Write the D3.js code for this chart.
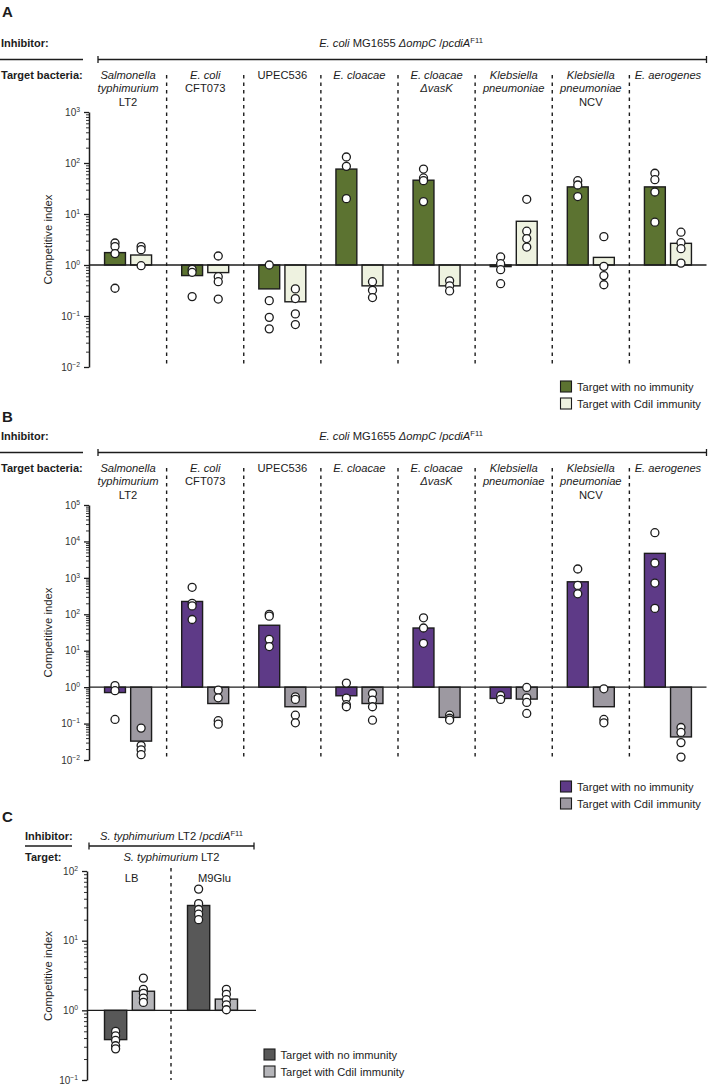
<!DOCTYPE html>
<html><head><meta charset="utf-8">
<script src="https://cdn.jsdelivr.net/npm/d3@7"></script>
<style>body{margin:0;background:#fff}svg{display:block;font-family:"Liberation Sans",Arial,Helvetica,sans-serif}</style>
</head><body><svg id="c" width="709" height="1087"></svg>
<script>
// ---------------- DATA ----------------
const targetLabels = [
  ["*Salmonella*", "*typhimurium*", "LT2"],
  ["*E. coli*", "CFT073"],
  ["UPEC536"],
  ["*E. cloacae*"],
  ["*E. cloacae*", "*ΔvasK*"],
  ["*Klebsiella*", "*pneumoniae*"],
  ["*Klebsiella*", "*pneumoniae*", "NCV"],
  ["*E. aerogenes*"]
];
const seriesNames = ["Target with no immunity", "Target with CdiI immunity"];
const inhibitorAB = "*E. coli* MG1655 *ΔompC* /*pcdiA*^F11^";
const inhibitorC = "*S. typhimurium* LT2 /*pcdiA*^F11^";
const targetC = "*S. typhimurium* LT2";
const conditionsC = ["LB", "M9Glu"];

const ticksA = [1e-2, 1e-1, 1e0, 1e1, 1e2, 1e3];
const ticksB = [1e-2, 1e-1, 1e0, 1e1, 1e2, 1e3, 1e4, 1e5];
const ticksC = [1e-1, 1e0, 1e1, 1e2];

// Panel A
const aNoBar = [1.75, 0.62, 0.34, 76, 46, 0.93, 34, 34];
const aNoPts = [[2.7, 2.3, 1.67, 0.35], [0.82, 0.72, 0.24], [1.0, 0.20, 0.094, 0.056], [131, 86, 20],
                [76, 51, 45, 17.5], [1.44, 1.06, 0.81, 0.43], [45, 37, 22], [63, 47, 27, 6.9]];
const aImmBar = [1.57, 0.71, 0.19, 0.39, 0.39, 7.2, 1.41, 2.66];
const aImmPts = [[2.3, 2.0, 0.97], [1.5, 0.59, 0.47, 0.215], [0.34, 0.22, 0.11, 0.068], [0.47, 0.32, 0.23],
                 [0.49, 0.39, 0.31], [19.4, 4.6, 3.3, 2.25], [3.6, 0.94, 0.62, 0.41], [4.4, 2.74, 2.09, 1.09]];
// Panel B
const bNoBar = [0.71, 225, 50, 0.58, 42, 0.49, 780, 4700];
const bNoPts = [[1.1, 0.8, 0.13], [550, 200, 170, 72], [100, 89, 20.5, 13], [1.29, 0.5, 0.33, 0.29],
                [80, 42, 16], [0.59, 0.46], [1750, 620, 365], [17400, 2560, 720, 145]];
const bImmBar = [0.033, 0.355, 0.29, 0.355, 0.148, 0.47, 0.29, 0.043];
const bImmPts = [[0.075, 0.025, 0.019, 0.014], [0.83, 0.51, 0.12, 0.096], [0.54, 0.46, 0.17, 0.105],
                 [0.67, 0.44, 0.29, 0.124], [0.17, 0.14, 0.125], [0.98, 0.51, 0.38, 0.19],
                 [0.9, 0.13, 0.105], [0.078, 0.057, 0.030, 0.012]];
// Panel C
const cNoBar = [0.38, 32];
const cNoPts = [[0.5, 0.43, 0.37, 0.31, 0.28], [55, 34, 28, 24, 20]];
const cImmBar = [1.88, 1.45];
const cImmPts = [[2.9, 2.0, 1.75, 1.5, 1.3], [2.0, 1.7, 1.42, 1.2, 1.02]];

// ---------------- DRAWING ----------------
const svg = d3.select("#c");
const INK = "#1c1c1c";

function rich(sel, markup, fs) {
  let italic = false, sup = false, buf = "";
  const segs = [];
  for (const ch of markup) {
    if (ch === "*" || ch === "^") {
      if (buf) segs.push({t: buf, i: italic, s: sup});
      buf = "";
      if (ch === "*") italic = !italic; else sup = !sup;
    } else buf += ch;
  }
  if (buf) segs.push({t: buf, i: italic, s: sup});
  let prev = false;
  const shift = fs * 0.4;
  segs.forEach(sg => {
    const ts = sel.append("tspan").text(sg.t).attr("font-style", sg.i ? "italic" : "normal");
    if (sg.s) { ts.attr("font-size", fs * 0.68); if (!prev) ts.attr("dy", -shift); }
    else { ts.attr("font-size", fs); if (prev) ts.attr("dy", shift); }
    prev = sg.s;
  });
  return sel;
}

function text(g, x, y, markup, opts = {}) {
  const fs = opts.fs || 11.2;
  const t = g.append("text").attr("x", x).attr("y", y).attr("fill", INK)
    .attr("font-size", fs).attr("text-anchor", opts.anchor || "start")
    .attr("font-weight", opts.bold ? "bold" : "normal");
  if (opts.rotate) t.attr("transform", `rotate(-90,${x},${y})`);
  return rich(t, markup, fs);
}

function expLabel(d) {
  const e = Math.round(Math.log10(d));
  return "10^" + (e < 0 ? "−" + (-e) : e) + "^";
}

function logAxis(g, y, x0, majors) {
  const minors = [];
  for (let i = 0; i < majors.length - 1; i++)
    for (let k = 2; k <= 9; k++) minors.push(k * majors[i]);
  g.append("g").attr("transform", `translate(${x0},0)`)
    .call(d3.axisLeft(y).tickValues(minors).tickSize(3).tickFormat(""))
    .call(s => s.select(".domain").remove())
    .selectAll("line").attr("stroke", INK).attr("stroke-width", 0.9);
  const ax = g.append("g").attr("transform", `translate(${x0},0)`)
    .call(d3.axisLeft(y).tickValues(majors).tickSize(5).tickSizeOuter(0).tickPadding(4).tickFormat(""));
  ax.select(".domain").attr("stroke", INK).attr("stroke-width", 1.5);
  ax.selectAll(".tick line").attr("stroke", INK).attr("stroke-width", 1.3);
  ax.selectAll(".tick text").each(function (d) {
    const t = d3.select(this).text(null).attr("fill", "#333").attr("font-family", "inherit");
    rich(t, expLabel(d), 10);
  });
}

function bars(g, x, x1, y, barVals, ptVals, si, color) {
  const cx = i => x(i) + x.bandwidth() / 2 + x1(si) + x1.bandwidth() / 2;
  g.selectAll(null).data(barVals).join("rect")
    .attr("x", (d, i) => x(i) + x.bandwidth() / 2 + x1(si))
    .attr("width", x1.bandwidth())
    .attr("y", d => Math.min(y(1), y(d)))
    .attr("height", d => Math.abs(y(1) - y(d)))
    .attr("fill", color).attr("stroke", INK).attr("stroke-width", 1.4);
  const pts = ptVals.flatMap((arr, i) => arr.map(v => ({i, v})));
  return () => g.selectAll(null).data(pts).join("circle")
    .attr("cx", d => cx(d.i)).attr("cy", d => y(d.v)).attr("r", 4)
    .attr("fill", "#fff").attr("stroke", INK).attr("stroke-width", 1.3);
}

function legend(g, x, y0, colors) {
  colors.forEach((c, i) => {
    g.append("rect").attr("x", x).attr("y", y0 + i * 17).attr("width", 11).attr("height", 11)
      .attr("fill", c).attr("stroke", INK).attr("stroke-width", 1.1);
    text(g, x + 16.5, y0 + i * 17 + 10, seriesNames[i], {fs: 11.1});
  });
}

function panelAB(cfg) {
  const o = cfg.off;
  const g = svg.append("g");
  text(g, 2, cfg.letterY, cfg.letter, {fs: 15, bold: true});
  text(g, 1, 47 + o, "Inhibitor:", {fs: 11, bold: true});
  text(g, 1, 78.5 + o, "Target bacteria:", {fs: 11, bold: true});
  g.append("line").attr("x1", 0).attr("x2", 83).attr("y1", 59.5 + o).attr("y2", 59.5 + o)
    .attr("stroke", INK).attr("stroke-width", 1.3);
  g.append("path").attr("d", `M98,${56 + o}V${63 + o}M98,${59.5 + o}H706.5M706.5,${56 + o}V${63 + o}`)
    .attr("fill", "none").attr("stroke", INK).attr("stroke-width", 1.3);
  text(g, 401, 47 + o, inhibitorAB, {anchor: "middle"});

  const x = d3.scaleBand().domain(d3.range(8)).range([89.5, 706.5]);
  const x1 = d3.scaleBand().domain([0, 1]).range([-23.5, 23.5]).paddingInner(0.2);
  const y = d3.scaleLog().domain(cfg.domain).range([367 + o, 112 + o]);

  targetLabels.forEach((lines, i) => lines.forEach((ln, j) =>
    text(g, x(i) + x.bandwidth() / 2, 78.5 + o + j * 13.5, ln, {anchor: "middle"})));

  d3.range(1, 8).forEach(i => g.append("line")
    .attr("x1", x(i)).attr("x2", x(i)).attr("y1", 75 + o).attr("y2", 367 + o)
    .attr("stroke", INK).attr("stroke-width", 1.4).attr("stroke-dasharray", "3.5,4"));

  logAxis(g, y, 89, cfg.ticks);
  text(g, 52, (112 + 367) / 2 + o, "Competitive index", {anchor: "middle", rotate: true, fs: 11.3});

  const p1 = bars(g, x, x1, y, cfg.noBar, cfg.noPts, 0, cfg.colors[0]);
  const p2 = bars(g, x, x1, y, cfg.immBar, cfg.immPts, 1, cfg.colors[1]);
  g.append("line").attr("x1", 89).attr("x2", 706.5).attr("y1", y(1)).attr("y2", y(1))
    .attr("stroke", INK).attr("stroke-width", 1.4);
  p1(); p2();
  legend(g, 560.5, cfg.legendY, cfg.colors);
}

panelAB({off: 0, letter: "A", letterY: 17, domain: [1e-2, 1e3], ticks: ticksA,
  noBar: aNoBar, noPts: aNoPts, immBar: aImmBar, immPts: aImmPts,
  colors: ["#5c7331", "#eef2e0"], legendY: 381});
panelAB({off: 393, letter: "B", letterY: 422, domain: [1e-2, 1e5], ticks: ticksB,
  noBar: bNoBar, noPts: bNoPts, immBar: bImmBar, immPts: bImmPts,
  colors: ["#5e3a87", "#9d99a1"], legendY: 781});

// Panel C
(function () {
  const g = svg.append("g");
  text(g, 2, 822, "C", {fs: 15, bold: true});
  text(g, 25, 840, "Inhibitor:", {fs: 11, bold: true});
  text(g, 25, 861, "Target:", {fs: 11, bold: true});
  g.append("line").attr("x1", 25).attr("x2", 72).attr("y1", 846).attr("y2", 846)
    .attr("stroke", INK).attr("stroke-width", 1.3);
  g.append("path").attr("d", "M89,842.5V849.5M89,846H254M254,842.5V849.5")
    .attr("fill", "none").attr("stroke", INK).attr("stroke-width", 1.3);
  text(g, 171.5, 840, inhibitorC, {anchor: "middle"});
  text(g, 171.5, 861, targetC, {anchor: "middle"});

  const x = d3.scaleBand().domain(d3.range(2)).range([88, 254]);
  const x1 = d3.scaleBand().domain([0, 1]).range([-25, 25]).paddingInner(0.2);
  const y = d3.scaleLog().domain([1e-1, 1e2]).range([1080, 871]);

  conditionsC.forEach((c, i) => text(g, x(i) + x.bandwidth() / 2 + 2, 882, c, {anchor: "middle"}));
  g.append("line").attr("x1", x(1)).attr("x2", x(1)).attr("y1", 868).attr("y2", 1080)
    .attr("stroke", INK).attr("stroke-width", 1.4).attr("stroke-dasharray", "3.5,4");

  logAxis(g, y, 87, ticksC);
  text(g, 52, 976, "Competitive index", {anchor: "middle", rotate: true, fs: 11.3});
  const colors = ["#585858", "#b5b5b9"];
  const p1 = bars(g, x, x1, y, cNoBar, cNoPts, 0, colors[0]);
  const p2 = bars(g, x, x1, y, cImmBar, cImmPts, 1, colors[1]);
  g.append("line").attr("x1", 87).attr("x2", 256).attr("y1", y(1)).attr("y2", y(1))
    .attr("stroke", INK).attr("stroke-width", 1.4);
  p1(); p2();
  legend(g, 264, 1049, colors);
})();
</script></body></html>
